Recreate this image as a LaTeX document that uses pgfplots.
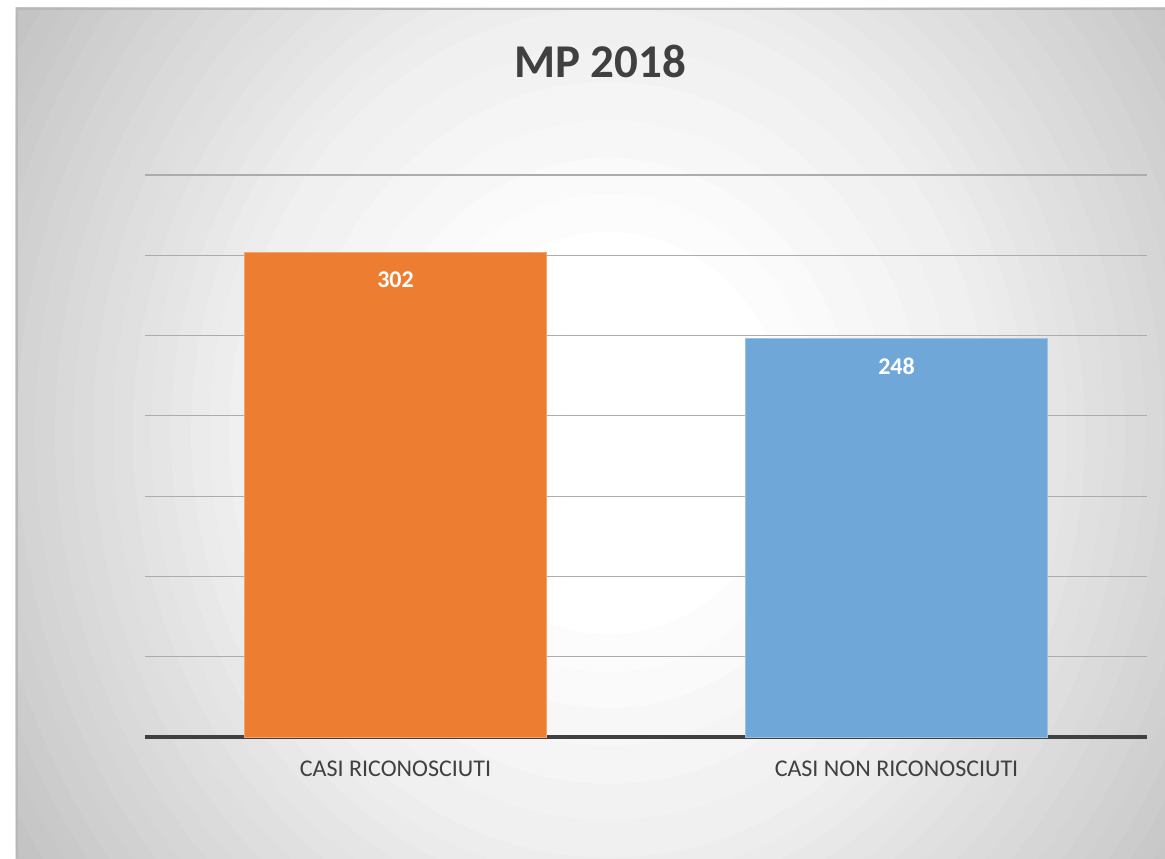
\documentclass[border=0pt]{standalone}
\usepackage{pgfplots}
\pgfplotsset{compat=1.18}
\usepackage{fontspec}
\setmainfont{Carlito}

\definecolor{barorange}{RGB}{237,125,49}
\definecolor{barblue}{RGB}{112,167,217}
\definecolor{txtgray}{RGB}{64,64,64}
\definecolor{gridgray}{RGB}{172,172,172}

\begin{document}
\begin{tikzpicture}
% page and chart area (1 px of the reference = 0.5pt)
\path[use as bounding box, fill=white] (-72.5pt,-60.5pt) rectangle (510pt,368.5pt);
% soft radial background, drawn as nested ellipses from the edge inwards
\begin{scope}
  \clip (-64.5pt,-60.5pt) rectangle (510pt,364.5pt);
  \foreach \r/\g in {420/27, 402.5/26, 385/25, 367.5/24, 350/23, 341/22,
      332/21, 323/20, 314/19, 305/18, 296/17, 287/16, 277/15, 268/14,
      258/13, 248/12, 238/11, 229/10, 219/9, 209/8, 200/7, 190/6,
      173/5, 157/4, 140/3, 123/2, 107/1, 90/0}
    \fill[black!\g] (232pt,152pt) ellipse [x radius=\r pt, y radius=1.118*\r pt];
\end{scope}
\draw[black!28, line width=1pt] (-64pt,-60.5pt) -- (-64pt,364pt) -- (510pt,364pt);

\begin{axis}[
    at={(0pt,0pt)}, anchor=south west,
    scale only axis, width=501pt, height=281pt,
    xmin=-0.5, xmax=1.5, ymin=0, ymax=350,
    enlargelimits=false,
    axis x line*=bottom, axis y line*=left,
    x axis line style={line width=2pt, txtgray},
    y axis line style={draw=none},
    xtick={0,1},
    xticklabels={CASI RICONOSCIUTI, CASI NON RICONOSCIUTI},
    ytick={50,100,...,350}, yticklabels={},
    major tick length=0pt,
    ymajorgrids=true,
    grid style={gridgray, line width=0.6pt},
    xticklabel style={font=\fontsize{12}{14}\selectfont, text=txtgray, yshift=-8.5pt},
    /pgf/number format/assume math mode=true,
    every node near coord/.append style={anchor=north, inner sep=0pt,
        font=\bfseries\fontsize{12}{14}\selectfont, text=white, yshift=-9.5pt},
  ]
\addplot[ybar, bar width=0.603, bar shift=0pt, fill=barorange,
  draw=barorange!70!white, nodes near coords] coordinates {(0,302)};
\addplot[ybar, bar width=0.603, bar shift=0pt, fill=barblue,
  draw=barblue!70!white, nodes near coords] coordinates {(1,248)};
\end{axis}

\node[font=\bfseries\fontsize{23.5}{28}\selectfont, text=txtgray]
  at (227.5pt,338pt) {MP 2018};
\end{tikzpicture}
\end{document}
